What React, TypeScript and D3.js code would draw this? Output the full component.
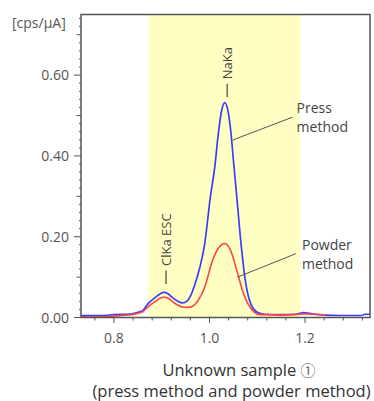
import React from 'react';
import * as d3 from 'd3';

// ---- data ----
const pressX = [0.731, 0.78, 0.80, 0.83, 0.845, 0.86, 0.872, 0.887, 0.897, 0.905, 0.913, 0.922, 0.933, 0.943, 0.954, 0.962, 0.97, 0.98, 0.99, 1.002, 1.011, 1.018, 1.025, 1.032, 1.038, 1.045, 1.05, 1.057, 1.066, 1.076, 1.086, 1.10, 1.115, 1.15, 1.18, 1.197, 1.215, 1.24, 1.27, 1.318, 1.325, 1.336];
const pressY = [0.005, 0.005, 0.007, 0.008, 0.011, 0.017, 0.035, 0.050, 0.059, 0.062, 0.059, 0.050, 0.041, 0.036, 0.042, 0.058, 0.084, 0.125, 0.183, 0.300, 0.372, 0.450, 0.510, 0.532, 0.515, 0.456, 0.390, 0.300, 0.183, 0.084, 0.035, 0.013, 0.008, 0.007, 0.008, 0.012, 0.009, 0.006, 0.005, 0.005, 0.008, 0.008];

const powderX = [0.731, 0.78, 0.80, 0.83, 0.845, 0.86, 0.872, 0.887, 0.897, 0.905, 0.913, 0.922, 0.933, 0.943, 0.954, 0.965, 0.975, 0.99, 1.006, 1.023, 1.032, 1.044, 1.059, 1.069, 1.08, 1.094, 1.107, 1.15, 1.18, 1.20, 1.22, 1.243];
const powderY = [0.002, 0.002, 0.004, 0.006, 0.009, 0.014, 0.027, 0.040, 0.048, 0.050, 0.048, 0.040, 0.031, 0.026, 0.025, 0.028, 0.040, 0.075, 0.140, 0.178, 0.183, 0.166, 0.109, 0.067, 0.035, 0.013, 0.007, 0.006, 0.007, 0.009, 0.008, 0.006];

const xMajorTicks = [0.8, 1.0, 1.2];
const xTickLabels = ['0.8', '1.0', '1.2'];
const yMajorTicks = [0, 0.2, 0.4, 0.6];
const yTickLabels = ['0.00', '0.20', '0.40', '0.60'];
const bandRange = [0.872, 1.19];

const peakLabels = ['NaKa', 'ClKa ESC'];
const peakLabelX = [1.037, 0.909];
const peakLabelY = [0.545, 0.083]; // bottom of dash

const seriesNames = ['Press', 'Powder'];
const pointerFrom = [[1.048, 0.439], [1.0586, 0.10]];
const pointerTo = [[1.174, 0.496], [1.181, 0.158]];

const xAxisTitle = ['Unknown sample ', '\u2460', '(press method and powder method)'];
const yUnit = '[cps/\u03bcA]';

const W = 374, H = 401;
const margin = { left: 81, top: 14.5, right: 4, bottom: 83.5 };
const FONT = "'Open Sans', 'Noto Sans', sans-serif";

export default function App() {
  const x = d3.scaleLinear().domain([0.731, 1.336]).range([margin.left, W - margin.right]);
  const y = d3.scaleLinear().domain([0, 0.75]).range([H - margin.bottom, margin.top]);
  const line = d3.line<[number, number]>().x(d => x(d[0])).y(d => y(d[1])).curve(d3.curveMonotoneX);
  const press = pressX.map((v, i) => [v, pressY[i]] as [number, number]);
  const powder = powderX.map((v, i) => [v, powderY[i]] as [number, number]);

  const xMinor = d3.range(19, 34).map(i => +(i * 0.04).toFixed(2));
  const yMinor = d3.range(0, 38).map(i => +(i * 0.02).toFixed(2));
  const x0 = x.range()[0], x1 = x.range()[1];
  const y0 = y.range()[0], y1 = y.range()[1];
  const axisColor = '#555';
  const textColor = '#444';

  return (
    <svg width={W} height={H} style={{ position: 'absolute', left: 0, top: 0 }} fontFamily={FONT}>
      <rect x={0} y={0} width={W} height={H} fill="#fff" />
      <rect x={x(bandRange[0])} y={y1} width={x(bandRange[1]) - x(bandRange[0])} height={y0 - y1} fill="#ffffc4" />

      {/* y ticks */}
      {yMinor.map((v, i) => {
        const isMajor = i % 10 === 0;
        const isMed = i % 5 === 0 && !isMajor;
        const len = isMajor ? 7 : isMed ? 4.5 : 2;
        return <line key={'ym' + i} x1={x0 - len} x2={x0} y1={y(v)} y2={y(v)} stroke={axisColor} strokeWidth={1} />;
      })}
      {yMajorTicks.map((v, i) => (
        <text key={'yl' + i} x={69} y={y(v)} dy="0.36em" textAnchor="end" fontSize={14} fill="#555">{yTickLabels[i]}</text>
      ))}
      {/* x ticks */}
      {xMinor.map((v, i) => {
        const isMajor = xMajorTicks.some(t => Math.abs(t - v) < 1e-6);
        return <line key={'xm' + i} x1={x(v)} x2={x(v)} y1={y0} y2={y0 + (isMajor ? 5.5 : 3)} stroke={axisColor} strokeWidth={1} />;
      })}
      {xMajorTicks.map((v, i) => (
        <text key={'xl' + i} x={x(v)} y={343} textAnchor="middle" fontSize={14} fill="#555">{xTickLabels[i]}</text>
      ))}

      {/* series */}
      <path d={line(press) || ''} fill="none" stroke="#3c3cff" strokeWidth={1.7} />
      <path d={line(powder) || ''} fill="none" stroke="#ff4444" strokeWidth={1.6} />

      {/* frame */}
      <rect x={x0} y={y1} width={x1 - x0} height={y0 - y1} fill="none" stroke={axisColor} strokeWidth={1.5} />

      {/* peak labels */}
      {peakLabels.map((t, i) => {
        const px = x(peakLabelX[i]);
        const py = y(peakLabelY[i]);
        return (
          <g key={'pk' + i}>
            <line x1={px} x2={px} y1={py} y2={py - 13.5} stroke={textColor} strokeWidth={1.2} />
            <text transform={`translate(${px + 4.5},${py - 18}) rotate(-90)`} fontSize={13} fill={textColor}>{t}</text>
          </g>
        );
      })}

      {/* series pointers */}
      {seriesNames.map((n, i) => {
        const [fx, fy] = pointerFrom[i];
        const [tx, ty] = pointerTo[i];
        const lx = x(tx) + 4;
        const ly = y(ty) - 4;
        return (
          <g key={'sp' + i}>
            <line x1={x(fx)} y1={y(fy)} x2={x(tx)} y2={y(ty)} stroke="#555" strokeWidth={1} />
            <text x={lx + (i === 1 ? 2 : 0)} y={ly} fontSize={14} fill={textColor}>{n}</text>
            <text x={lx + (i === 1 ? 2 : 0)} y={ly + 19} fontSize={14} fill={textColor}>method</text>
          </g>
        );
      })}

      {/* axis titles */}
      <text x={12} y={28} fontSize={14} fill="#555">{yUnit}</text>
      <text x={239} y={376} textAnchor="middle" fontSize={16.5} fill="#333">
        {xAxisTitle[0]}
        <tspan fontFamily="'Noto Sans CJK JP', sans-serif" fontSize={15} fill="#666">{xAxisTitle[1]}</tspan>
      </text>
      <text x={231.5} y={396.5} textAnchor="middle" fontSize={16.5} fill="#333">{xAxisTitle[2]}</text>
    </svg>
  );
}
